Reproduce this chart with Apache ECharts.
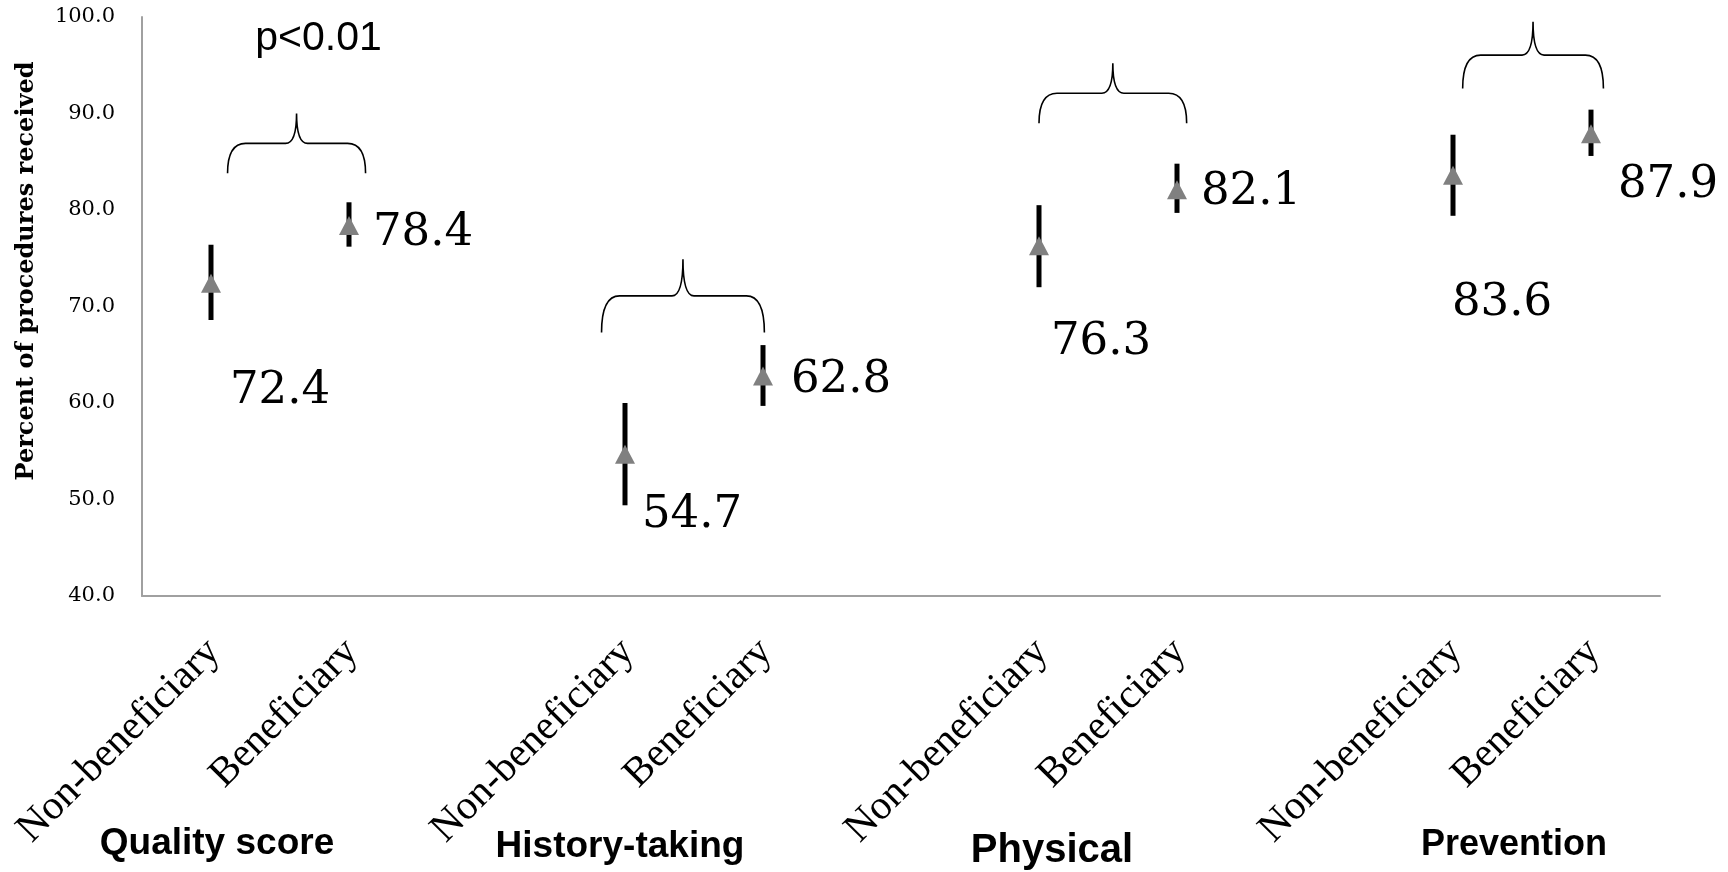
<!DOCTYPE html>
<html><head><meta charset="utf-8">
<script src="https://cdn.jsdelivr.net/npm/echarts@6/dist/echarts.min.js"></script>
<style>html,body{margin:0;padding:0;background:#fff}#c{width:1728px;height:872px}</style>
</head><body><div id="c"></div>
<script>
// ---- data ----
const groups = ['Quality score', 'History-taking', 'Physical', 'Prevention'];
const subgroups = ['Non-beneficiary', 'Beneficiary'];
const nonBenMean = [72.4, 54.7, 76.3, 83.6];
const nonBenLow  = [68.6, 49.4, 72.0, 79.4];
const nonBenHigh = [76.4, 60.0, 80.5, 87.8];
const benMean = [78.4, 62.8, 82.1, 87.9];
const benLow  = [76.2, 59.7, 79.7, 85.6];
const benHigh = [80.8, 66.0, 84.8, 90.4];
const bracketBottom = [83.8, 67.3, 89.0, 92.6];
const bracketTip    = [90.0, 74.9, 95.2, 99.5];
const pValueText = ['p<0.01', '', '', ''];
const yMin = 40, yMax = 100, yStep = 10;

// ---- layout / style (not data) ----
const nbLabelOffset = [[69, 108], [67, 61], [62, 97], [49, 128]];
const bLabelOffset  = [[74, 8], [78, 4], [74, 3], [77, 52]];
const bracketLeftShift  = [0.12, -0.17, 0.0, 0.07];
const bracketRightShift = [0.12, 0.01, 0.07, 0.09];
const groupLabelDx = [6, -5, 13, 61];
const groupLabelY  = [844, 847, 851, 845];
const groupLabelSize = [37, 37, 40, 36];
const LABEL_SHIFT = 3;

// ---- build slots ----
const slotLabels = [];
const nbSlot = [], bSlot = [];
groups.forEach((g, i) => {
  nbSlot.push(slotLabels.length); slotLabels.push(subgroups[0]);
  bSlot.push(slotLabels.length); slotLabels.push(subgroups[1]);
  if (i < groups.length - 1) slotLabels.push('');
});

const pointData = [];
const errData = [];
groups.forEach((g, i) => {
  pointData.push({ value: [nbSlot[i], nonBenMean[i]], label: { offset: nbLabelOffset[i] } });
  pointData.push({ value: [bSlot[i], benMean[i]], label: { offset: bLabelOffset[i] } });
  errData.push([nbSlot[i], nonBenLow[i], nonBenHigh[i]]);
  errData.push([bSlot[i], benLow[i], benHigh[i]]);
});
const bracketData = groups.map((g, i) => [i, bracketBottom[i], bracketTip[i]]);

const chart = echarts.init(document.getElementById('c'));
const axisColor = '#a0a0a0';
chart.setOption({
  animation: false,
  backgroundColor: '#fff',
  grid: [
    { left: 142, right: 68, top: 17, bottom: 276 },
    { left: 142 + LABEL_SHIFT, right: 68 - LABEL_SHIFT, top: 17, bottom: 276 }
  ],
  xAxis: [
    { type: 'category', gridIndex: 0, data: slotLabels, boundaryGap: true,
      axisLine: { lineStyle: { color: axisColor, width: 2 } },
      axisTick: { show: false }, axisLabel: { show: false }, splitLine: { show: false } },
    { type: 'category', gridIndex: 1, data: slotLabels, boundaryGap: true,
      axisLine: { show: false }, axisTick: { show: false }, splitLine: { show: false },
      axisLabel: { interval: 0, rotate: 45, margin: 50, fontFamily: 'Liberation Serif', fontSize: 41, color: '#000' } }
  ],
  yAxis: [
    { type: 'value', gridIndex: 0, min: yMin, max: yMax, interval: yStep,
      axisLine: { show: true, lineStyle: { color: axisColor, width: 2 } },
      axisTick: { show: false }, splitLine: { show: false },
      axisLabel: { margin: 27, fontFamily: 'DejaVu Serif', fontSize: 21, color: '#000',
                   formatter: v => v.toFixed(1) } },
    { type: 'value', gridIndex: 1, min: yMin, max: yMax, show: false }
  ],
  series: [
    {
      type: 'custom', name: 'ci', xAxisIndex: 0, yAxisIndex: 0, z: 2, clip: false,
      data: errData,
      renderItem: (params, api) => {
        const p1 = api.coord([api.value(0), api.value(1)]);
        const p2 = api.coord([api.value(0), api.value(2)]);
        return { type: 'line', shape: { x1: p1[0], y1: p1[1], x2: p2[0], y2: p2[1] },
                 style: { stroke: '#000', lineWidth: 5 } };
      }
    },
    {
      type: 'scatter', name: 'mean', xAxisIndex: 0, yAxisIndex: 0, z: 3,
      symbol: 'triangle', symbolSize: [20, 19],
      itemStyle: { color: '#808080', opacity: 1 },
      emphasis: { disabled: true },
      data: pointData,
      label: { show: true, position: 'inside', align: 'center', verticalAlign: 'middle',
               fontFamily: 'DejaVu Serif', fontSize: 45, color: '#000', opacity: 1,
               textBorderWidth: 0, textBorderColor: 'transparent',
               formatter: p => p.value[1].toFixed(1) }
    },
    {
      type: 'custom', name: 'bracket', xAxisIndex: 0, yAxisIndex: 0, z: 4, clip: false,
      data: bracketData,
      renderItem: (params, api) => {
        const i = api.value(0);
        const slotW = api.size([1, 0])[0];
        const pb = api.coord([nbSlot[i], api.value(1)]);
        const pt = api.coord([nbSlot[i], api.value(2)]);
        const xL = api.coord([nbSlot[i], yMin])[0] + bracketLeftShift[i] * slotW;
        const xR = api.coord([bSlot[i], yMin])[0] + bracketRightShift[i] * slotW;
        const yB = pb[1], yT = pt[1], yH = (yB + yT) / 2;
        const xm = (xL + xR) / 2, rx = 18, cx = 11;
        const d = `M${xL} ${yB} Q${xL} ${yH} ${xL + rx} ${yH} L${xm - cx} ${yH} Q${xm} ${yH} ${xm} ${yT} ` +
                  `Q${xm} ${yH} ${xm + cx} ${yH} L${xR - rx} ${yH} Q${xR} ${yH} ${xR} ${yB}`;
        const children = [{ type: 'path', shape: { pathData: d },
                            style: { stroke: '#000', lineWidth: 1.6, fill: 'none' } }];
        if (pValueText[i]) {
          children.push({ type: 'text', x: xm + 22, y: yT - 75,
            style: { text: pValueText[i], fontFamily: 'Liberation Sans', fontSize: 41, fill: '#000',
                     align: 'center', verticalAlign: 'middle' } });
        }
        return { type: 'group', children };
      }
    }
  ]
});

// annotation texts placed relative to the axis
const graphics = groups.map((g, i) => {
  const x = chart.convertToPixel({ xAxisIndex: 0 }, nbSlot[i]) + groupLabelDx[i];
  return { type: 'text', x: x, y: groupLabelY[i],
    style: { text: g, font: `bold ${groupLabelSize[i]}px "Liberation Sans"`, fill: '#000',
             align: 'center', verticalAlign: 'middle' } };
});
graphics.push({ type: 'text', x: 27, y: 271, rotation: Math.PI / 2,
  style: { text: 'Percent of procedures received', font: 'bold 24px "DejaVu Serif"', fill: '#000',
           align: 'center', verticalAlign: 'middle' } });
chart.setOption({ graphic: graphics });
</script>
</body></html>
